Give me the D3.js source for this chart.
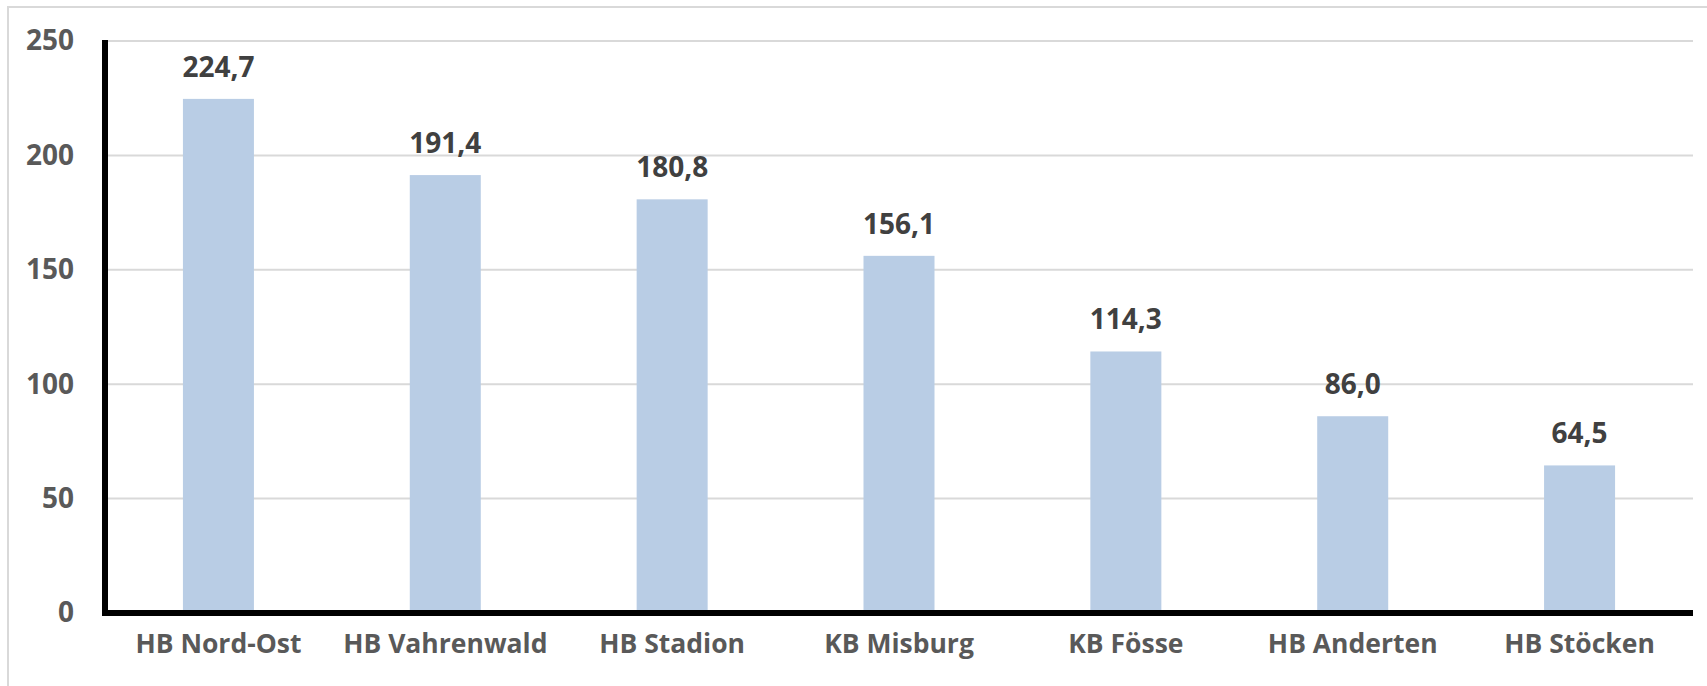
<!DOCTYPE html>
<html>
<head>
<meta charset="utf-8">
<script src="https://cdn.jsdelivr.net/npm/d3@7"></script>
<style>
  html, body { margin: 0; padding: 0; background: #ffffff; }
  svg { display: block; }
</style>
</head>
<body>
<div id="chart"></div>
<script>
// Werte aus dem Diagramm
const categories = ["HB Nord-Ost", "HB Vahrenwald", "HB Stadion", "KB Misburg", "KB Fösse", "HB Anderten", "HB Stöcken"];
const values = [224.7, 191.4, 180.8, 156.1, 114.3, 86.0, 64.5];
const yTicks = [0, 50, 100, 150, 200, 250];

const W = 1707, H = 686;
const margin = { top: 41, right: 14, bottom: 73, left: 105 };
const width = W - margin.left - margin.right;
const height = H - margin.top - margin.bottom;
const font = "'Open Sans', sans-serif";

const svg = d3.select("#chart")
    .append("svg")
    .attr("width", W)
    .attr("height", H);

// äußerer Rahmen (nur links und oben sichtbar)
svg.append("rect")
    .attr("x", 8)
    .attr("y", 7)
    .attr("width", W)
    .attr("height", H)
    .attr("fill", "none")
    .attr("stroke", "#d9d9d9")
    .attr("stroke-width", 2);

const g = svg.append("g")
    .attr("transform", "translate(" + margin.left + "," + margin.top + ")");

const x = d3.scaleBand()
    .domain(categories)
    .range([0, width])
    .paddingInner(0.687)
    .paddingOuter(0.3435);

const y = d3.scaleLinear()
    .domain([0, 250])
    .range([height, 0]);

// Gitterlinien
g.append("g")
    .selectAll("line")
    .data(yTicks.filter(d => d > 0))
    .enter()
    .append("line")
    .attr("x1", 0)
    .attr("x2", width)
    .attr("y1", d => y(d))
    .attr("y2", d => y(d))
    .attr("stroke", "#d9d9d9")
    .attr("stroke-width", 2);

// Balken
g.selectAll("rect.bar")
    .data(values)
    .enter()
    .append("rect")
    .attr("class", "bar")
    .attr("x", (d, i) => x(categories[i]))
    .attr("y", d => y(d))
    .attr("width", x.bandwidth())
    .attr("height", d => y(0) - y(d))
    .attr("fill", "#b9cde5");

// Datenbeschriftungen
g.selectAll("text.val")
    .data(values)
    .enter()
    .append("text")
    .attr("class", "val")
    .attr("x", (d, i) => x(categories[i]) + x.bandwidth() / 2)
    .attr("y", d => y(d) - 22)
    .attr("text-anchor", "middle")
    .style("font-family", font)
    .style("font-weight", "700")
    .style("font-size", "28px")
    .style("fill", "#404040")
    .text(d => d3.format(".1f")(d).replace(".", ","));

// Y-Achse
const yAxis = d3.axisLeft(y).tickValues(yTicks).tickSize(0).tickPadding(31);
const ya = g.append("g").call(yAxis);
ya.select(".domain").remove();
ya.selectAll("text")
    .style("font-family", font)
    .style("font-weight", "700")
    .style("font-size", "28px")
    .style("fill", "#595959");

// X-Achse
const xAxis = d3.axisBottom(x).tickSize(0).tickPadding(21);
const xa = g.append("g")
    .attr("transform", "translate(0," + height + ")")
    .call(xAxis);
xa.select(".domain").remove();
xa.selectAll("text")
    .style("font-family", font)
    .style("font-weight", "700")
    .style("font-size", "26.5px")
    .style("fill", "#595959");

// dicke schwarze Achsenlinien
g.append("path")
    .attr("d", "M0,-1V" + height + "H" + width)
    .attr("fill", "none")
    .attr("stroke", "#000")
    .attr("stroke-width", 6);
</script>
</body>
</html>
